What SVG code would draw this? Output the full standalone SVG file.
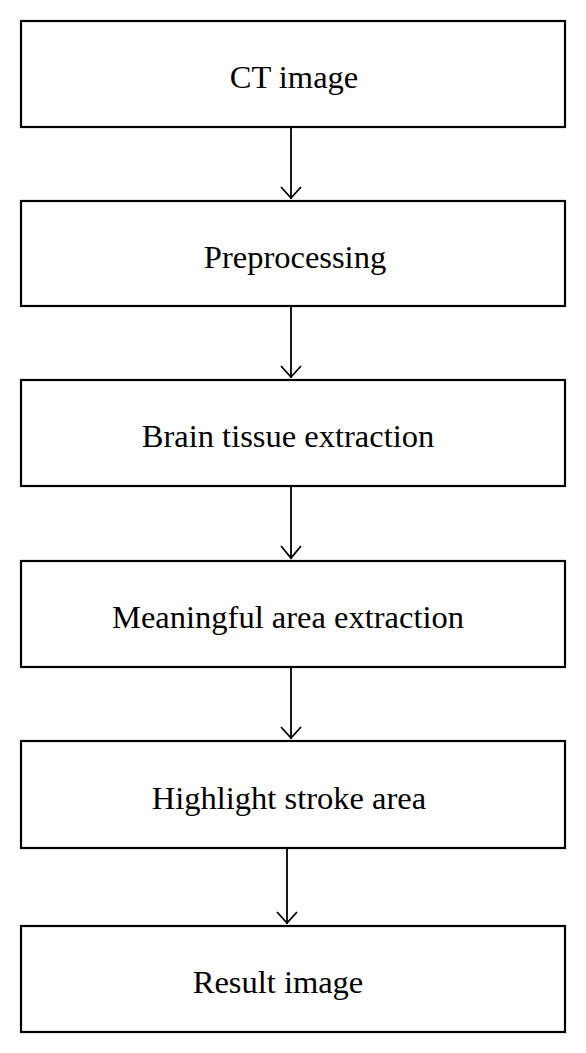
<svg xmlns="http://www.w3.org/2000/svg" width="586" height="1053" viewBox="0 0 586 1053">
<style>
.box{fill:#fff;stroke:#000;stroke-width:2.2}
.lbl{font-family:"Liberation Serif","Times New Roman",serif;font-size:32.5px;fill:#000;text-anchor:middle}
.con{stroke:#000;stroke-width:1.8;fill:none}
</style>
<rect width="586" height="1053" fill="#fff"/>
<g id="connectors">
<line class="con" x1="291" y1="127" x2="291" y2="199"/>
<line class="con" x1="291" y1="306" x2="291" y2="378"/>
<line class="con" x1="291" y1="486" x2="291" y2="559"/>
<line class="con" x1="291" y1="667" x2="291" y2="739"/>
<line class="con" x1="287" y1="848" x2="287" y2="924"/>
<path class="con" d="M281 187 L291 198 L301 187"/>
<path class="con" d="M281 366 L291 377 L301 366"/>
<path class="con" d="M281 546 L291 558 L301 546"/>
<path class="con" d="M281 727 L291 738 L301 727"/>
<path class="con" d="M277 912 L287 923 L297 912"/>
</g>
<g id="n1"><rect class="box" x="21" y="21" width="544" height="106"/><text class="lbl" x="294" y="88">CT image</text></g>
<g id="n2"><rect class="box" x="21" y="201" width="544" height="105"/><text class="lbl" x="295" y="268">Preprocessing</text></g>
<g id="n3"><rect class="box" x="21" y="380" width="544" height="106"/><text class="lbl" x="288" y="447">Brain tissue extraction</text></g>
<g id="n4"><rect class="box" x="21" y="561" width="544" height="106"/><text class="lbl" x="288" y="628">Meaningful area extraction</text></g>
<g id="n5"><rect class="box" x="21" y="741" width="544" height="107"/><text class="lbl" x="289" y="809">Highlight stroke area</text></g>
<g id="n6"><rect class="box" x="21" y="926" width="544" height="106"/><text class="lbl" x="278" y="993">Result image</text></g>
</svg>
